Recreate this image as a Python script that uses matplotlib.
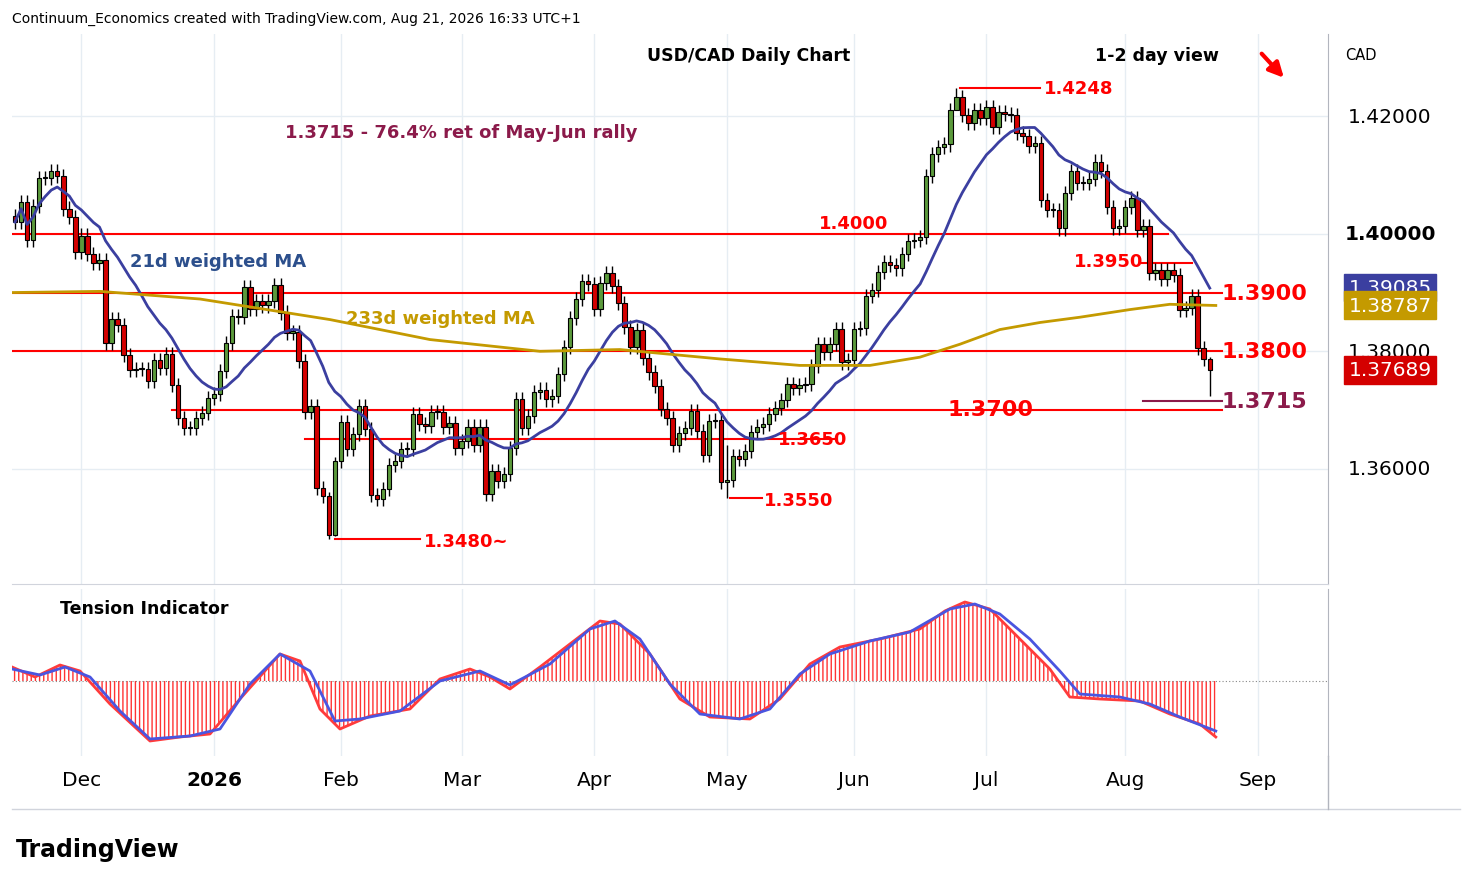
import numpy as np
import pandas as pd
import matplotlib
matplotlib.use("Agg")
import matplotlib.pyplot as plt
from matplotlib.patches import Rectangle

# daily closes, USD/CAD
closes = [
    1.4020, 1.4054, 1.3989, 1.4048, 1.4095,
    1.4095, 1.4107, 1.4098, 1.4043, 1.4028,
    1.3969, 1.3997, 1.3966, 1.3951, 1.3956,
    1.3814, 1.3855, 1.3845, 1.3793, 1.3768,
    1.3770, 1.3770, 1.3749, 1.3785, 1.3772,
    1.3795, 1.3743, 1.3686, 1.3669, 1.3670,
    1.3687, 1.3695, 1.3720, 1.3727, 1.3766,
    1.3814, 1.3860, 1.3858, 1.3909, 1.3872,
    1.3885, 1.3878, 1.3885, 1.3912, 1.3866,
    1.3832, 1.3833, 1.3784, 1.3696, 1.3707,
    1.3568, 1.3554, 1.3488, 1.3613, 1.3680,
    1.3633, 1.3660, 1.3707, 1.3668, 1.3555,
    1.3549, 1.3566, 1.3607, 1.3613, 1.3633,
    1.3634, 1.3694, 1.3677, 1.3673, 1.3697,
    1.3697, 1.3672, 1.3678, 1.3636, 1.3647,
    1.3672, 1.3641, 1.3672, 1.3558, 1.3597,
    1.3579, 1.3591, 1.3636, 1.3719, 1.3670,
    1.3690, 1.3730, 1.3735, 1.3718, 1.3724,
    1.3762, 1.3808, 1.3857, 1.3889, 1.3920,
    1.3914, 1.3872, 1.3917, 1.3934, 1.3911,
    1.3882, 1.3842, 1.3808, 1.3837, 1.3789,
    1.3764, 1.3741, 1.3702, 1.3687, 1.3640,
    1.3661, 1.3669, 1.3698, 1.3664, 1.3624,
    1.3681, 1.3683, 1.3578, 1.3581, 1.3621,
    1.3617, 1.3630, 1.3662, 1.3672, 1.3677,
    1.3694, 1.3704, 1.3717, 1.3744, 1.3738,
    1.3742, 1.3744, 1.3775, 1.3813, 1.3798,
    1.3812, 1.3838, 1.3781, 1.3785, 1.3838,
    1.3839, 1.3894, 1.3905, 1.3935, 1.3952,
    1.3947, 1.3941, 1.3966, 1.3987, 1.3989,
    1.3994, 1.4098, 1.4135, 1.4148, 1.4152,
    1.4210, 1.4232, 1.4202, 1.4188, 1.4210,
    1.4197, 1.4215, 1.4181, 1.4207, 1.4204,
    1.4202, 1.4171, 1.4167, 1.4150, 1.4154,
    1.4057, 1.4040, 1.4040, 1.4009, 1.4070,
    1.4107, 1.4087, 1.4086, 1.4093, 1.4123,
    1.4107, 1.4046, 1.4010, 1.4013, 1.4046,
    1.4061, 1.4007, 1.4013, 1.3934, 1.3938,
    1.3923, 1.3938, 1.3930, 1.3871, 1.3873,
    1.3894, 1.3806, 1.3787, 1.37689,
]
# notable extreme wicks: index -> (high, low)
wicks = {52: (1.3560, 1.3480), 118: (1.3640, 1.3550), 156: (1.4248, 1.4215),
         198: (1.3790, 1.3724), 53: (1.3620, 1.3485)}

# 233d weighted MA vertices (chart x position, value)
ma233_x = [12, 100, 200, 330, 430, 540, 620, 720, 800, 870, 920, 960, 1000, 1040, 1080, 1130, 1170, 1216]
ma233_v = [1.3900, 1.3902, 1.3889, 1.3854, 1.3820, 1.3800, 1.3803, 1.3787, 1.3776,
           1.3776, 1.3790, 1.3812, 1.3837, 1.3849, 1.3858, 1.3871, 1.3880, 1.3878]

# tension indicator vertices (chart x, chart y)
ten_x_red = [12, 35, 60, 80, 110, 150, 180, 210, 240, 280, 300, 320, 340, 370, 410, 440, 470, 490,
             510, 540, 570, 600, 620, 650, 680, 710, 750, 780, 810, 840, 880, 920, 945, 965, 990,
             1020, 1050, 1070, 1100, 1140, 1170, 1200, 1216]
ten_y_red = [668, 678, 666, 672, 705, 742, 738, 735, 700, 655, 662, 710, 730, 717, 710, 680, 670, 678,
             690, 668, 645, 622, 625, 655, 700, 718, 720, 700, 665, 648, 640, 630, 612, 603, 610,
             640, 670, 698, 700, 702, 715, 725, 738]
ten_x_blue = [12, 40, 65, 90, 120, 150, 190, 220, 250, 280, 310, 335, 360, 400, 440, 480, 510, 550,
              590, 615, 640, 670, 700, 740, 770, 800, 830, 870, 910, 950, 975, 1000, 1030, 1060,
              1080, 1120, 1150, 1180, 1216]
ten_y_blue = [670, 676, 668, 678, 712, 740, 737, 730, 685, 655, 672, 722, 720, 712, 682, 672, 686, 665,
              630, 622, 640, 685, 715, 720, 710, 675, 655, 642, 633, 610, 605, 615, 640, 672,
              695, 698, 705, 718, 732]

dates = pd.bdate_range(end="2026-08-21", periods=len(closes) + 2)
dates = dates[~dates.strftime("%m-%d").isin(["12-25", "01-01"])]
dates = dates[-len(closes):]

c = np.array(closes)
o = np.r_[c[0] + 0.0010, c[:-1]]
h = np.maximum(o, c) + 0.0012
l = np.minimum(o, c) - 0.0012
for k, (hh, ll) in wicks.items():
    h[k], l[k] = hh, ll

# 21d weighted MA (partial window at start)
wma = []
for k in range(len(c)):
    w = c[max(0, k - 20):k + 1]
    wt = np.arange(1, len(w) + 1)
    wma.append((w * wt).sum() / wt.sum())

fig = plt.figure(figsize=(14.74, 8.87), dpi=100)
fig.patch.set_facecolor("white")
px = lambda x: (x - 15) / 6.035

ax = fig.add_axes([12 / 1474, 1 - 585 / 887, 1316 / 1474, 550 / 887])
ax2 = fig.add_axes([12 / 1474, 1 - 757 / 887, 1316 / 1474, 167 / 887], sharex=ax)
xs = np.arange(len(c))
ax.set_xlim(-0.5, 217.6)
ax.set_ylim(1.3404, 1.434)

grid_c = "#e6edf3"
month_idx, month_lab = [], []
for k in range(1, len(dates)):
    if dates[k].month != dates[k - 1].month:
        month_idx.append(k)
        month_lab.append("2026" if dates[k].month == 1 else dates[k].strftime("%b"))
month_idx.append(px(1258)); month_lab.append("Sep")
for a in (ax, ax2):
    for mi in month_idx:
        a.axvline(mi, color=grid_c, lw=1, zorder=0)
    for s in ["top", "left", "bottom"]:
        a.spines[s].set_visible(False)
    a.spines["right"].set_color("#b2b5be")
    a.tick_params(left=False, right=False, bottom=False, labelleft=False, labelbottom=False)
for yv in [1.36, 1.38, 1.40, 1.42]:
    ax.axhline(yv, color=grid_c, lw=1, zorder=0)
ax.spines["bottom"].set_visible(True)
ax.spines["bottom"].set_color("#d1d4dc")

# candles
for k in xs:
    col = "#5b9a3c" if c[k] >= o[k] else "#d40000"
    ax.vlines(k, l[k], h[k], color="black", lw=1, zorder=3)
    lo, hi = sorted([o[k], c[k]])
    ax.add_patch(Rectangle((k - 0.37, lo), 0.74, max(hi - lo, 0.0002), facecolor=col,
                           edgecolor="black", lw=0.8, zorder=4))

ax.plot(xs, wma, color="#3b3fa0", lw=2, zorder=5)
ax.plot([px(x) for x in ma233_x], ma233_v, color="#c49a00", lw=2, zorder=5)

red = "#ff0000"
def hl(y, x0, x1, col=red, lw=1.5):
    ax.plot([px(x0), px(x1)], [y, y], color=col, lw=lw, zorder=2)
hl(1.40, 12, 1168); hl(1.39, 12, 1222); hl(1.38, 12, 1222); hl(1.37, 172, 1222)
hl(1.365, 305, 835); hl(1.395, 1142, 1192); hl(1.4248, 960, 1040); hl(1.3550, 730, 762)
hl(1.3480, 335, 420); hl(1.3715, 1143, 1222, col="#8b1a4a")

def lab(x, y, s, size=13, col=red, ha="left"):
    ax.text(px(x), y, s, color=col, fontsize=size, fontweight="bold", ha=ha, va="center", zorder=6)
lab(1044, 1.4248, "1.4248"); lab(819, 1.4018, "1.4000"); lab(1074, 1.3953, "1.3950")
lab(1222, 1.3900, "1.3900", 16); lab(1222, 1.3800, "1.3800", 16); lab(948, 1.3702, "1.3700", 16)
lab(1222, 1.3715, "1.3715", 16, "#8b1a4a"); lab(778, 1.3650, "1.3650"); lab(764, 1.3547, "1.3550")
lab(424, 1.3477, "1.3480~")
ax.text(px(285), 1.4173, "1.3715 - 76.4% ret of May-Jun rally", color="#8b1a4a", fontsize=13,
        fontweight="bold", va="center")
ax.text(px(130), 1.3953, "21d weighted MA", color="#2c4f8c", fontsize=13, fontweight="bold", va="center")
ax.text(px(346), 1.3857, "233d weighted MA", color="#c49a00", fontsize=13, fontweight="bold", va="center")
ax.text(px(749), 1.4304, "USD/CAD Daily Chart", fontsize=12.5, fontweight="bold", ha="center", va="center")
ax.text(px(1157), 1.4304, "1-2 day view", fontsize=12.5, fontweight="bold", ha="center", va="center")
ax.annotate("", xy=(px(1286), 1.4262), xytext=(px(1260), 1.4310),
            arrowprops=dict(arrowstyle="-|>", color=red, lw=3, mutation_scale=22))

# right price scale
yt = ax.get_yaxis_transform()
for yv, s, fw in [(1.42, "1.42000", "normal"), (1.40, "1.40000", "bold"),
                  (1.38, "1.38000", "normal"), (1.36, "1.36000", "normal")]:
    ax.text(1 + 62 / 1316, yv, s, transform=yt, fontsize=14.5, fontweight=fw, ha="center", va="center")
for yv, s, bc in [(1.39085, "1.39085", "#3b3fa0"), (1.38787, "1.38787", "#c49a00"),
                  (1.37689, "1.37689", "#d40000")]:
    ax.text(1 + 62 / 1316, yv, s, transform=yt, fontsize=14.5, color="white",
            ha="center", va="center", zorder=10,
            bbox=dict(boxstyle="square,pad=0.22", fc=bc, ec=bc))
fig.text(1345 / 1474, 1 - 55 / 887, "CAD", fontsize=10.5, va="center")

# tension indicator
tx_r = [px(x) for x in ten_x_red]; tv_r = [682 - y for y in ten_y_red]
tx_b = [px(x) for x in ten_x_blue]; tv_b = [682 - y for y in ten_y_blue]
ax2.set_ylim(-75, 92)
ax2.fill_between(tx_r, 0, tv_r, facecolor="none", edgecolor="#ff3333", hatch="||||", lw=0)
ax2.axhline(0, color="#888888", lw=0.8, ls=(0, (1, 2)))
ax2.plot(tx_r, tv_r, color="#ff3b3b", lw=2)
ax2.plot(tx_b, tv_b, color="#4a55e0", lw=2)
ax2.text(px(60), 73, "Tension Indicator", fontsize=12.5, fontweight="bold", va="center")

for mi, ml in zip(month_idx, month_lab):
    fig.text((12 + (mi + 0.5) * 6.035) / 1474, 1 - 781 / 887, ml, fontsize=14.5,
             fontweight="bold" if ml == "2026" else "normal", ha="center", va="center")
fig.add_artist(plt.Line2D([12 / 1474, 1460 / 1474], [1 - 810 / 887] * 2, color="#d1d4dc", lw=1))
fig.add_artist(plt.Line2D([1328 / 1474] * 2, [1 - 810 / 887, 1 - 757 / 887], color="#b2b5be", lw=1))
fig.text(12 / 1474, 1 - 19 / 887, "Continuum_Economics created with TradingView.com, Aug 21, 2026 16:33 UTC+1",
         fontsize=10, va="center")
fig.text(16 / 1474, 1 - 850 / 887, "TradingView", fontsize=17, fontweight="bold", va="center")

fig.savefig("out.png", dpi=100)
